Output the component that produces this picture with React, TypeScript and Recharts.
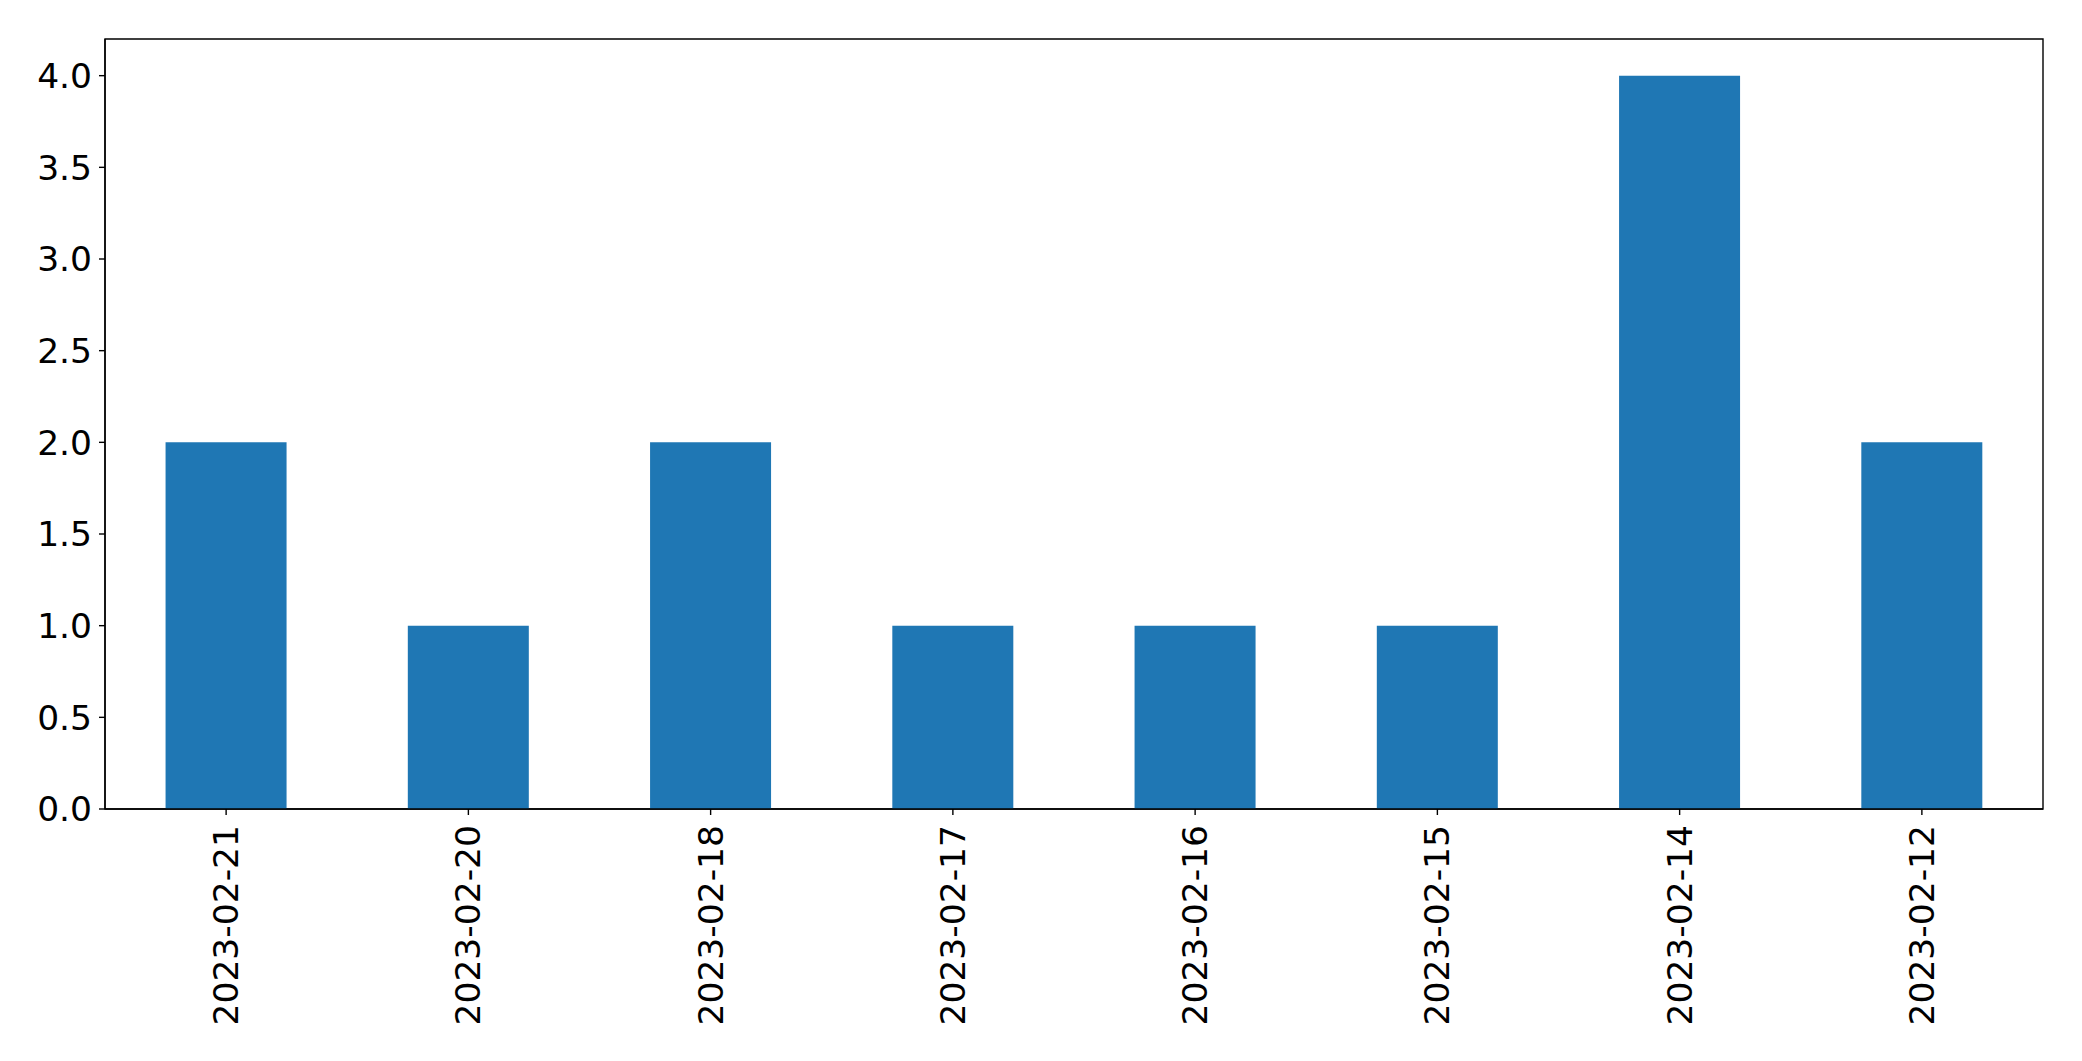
import React from "react";
import { BarChart, Bar, XAxis, YAxis, ReferenceArea } from "recharts";

const categories = ["2023-02-21", "2023-02-20", "2023-02-18", "2023-02-17", "2023-02-16", "2023-02-15", "2023-02-14", "2023-02-12"];
const counts = [2, 1, 2, 1, 1, 1, 4, 2];
const yTicks = [0, 0.5, 1.0, 1.5, 2.0, 2.5, 3.0, 3.5, 4.0];

const data = categories.map((c, i) => ({ date: c, count: counts[i] }));

const FONT = "DejaVu Sans, sans-serif";
const FS = 34.5;

const XTick = (props: any) => {
  const { x, y, payload } = props;
  return (
    <text
      x={x}
      y={y}
      transform={`rotate(-90, ${x}, ${y})`}
      textAnchor="end"
      dominantBaseline="central"
      fontFamily={FONT}
      fontSize={FS}
      fill="#000"
    >
      {payload.value}
    </text>
  );
};

export default function App() {
  return (
    <div style={{ position: "absolute", left: 0, top: 0, background: "#fff" }}>
      <BarChart
        width={2082}
        height={1061}
        data={data}
        margin={{ top: 39, right: 39, bottom: 0, left: 0 }}
        barCategoryGap="25%"
      >
        <XAxis
          dataKey="date"
          height={252}
          tick={<XTick />}
          tickSize={6}
          tickMargin={10}
          interval={0}
          axisLine={{ stroke: "#000", strokeWidth: 1.4 }}
          tickLine={{ stroke: "#000", strokeWidth: 1.4 }}
        />
        <YAxis
          width={105}
          domain={[0, 4.2]}
          ticks={yTicks}
          tickFormatter={(v: number) => v.toFixed(1)}
          tick={{ fontFamily: FONT, fontSize: FS, fill: "#000" }}
          tickSize={6}
          tickMargin={7}
          axisLine={{ stroke: "#000", strokeWidth: 1.4 }}
          tickLine={{ stroke: "#000", strokeWidth: 1.4 }}
          allowDataOverflow
        />
        <Bar dataKey="count" fill="#1f77b4" isAnimationActive={false} />
        <ReferenceArea y1={0} y2={4.2} fill="none" fillOpacity={0} stroke="#000" strokeWidth={1.4} ifOverflow="visible" />
      </BarChart>
    </div>
  );
}
